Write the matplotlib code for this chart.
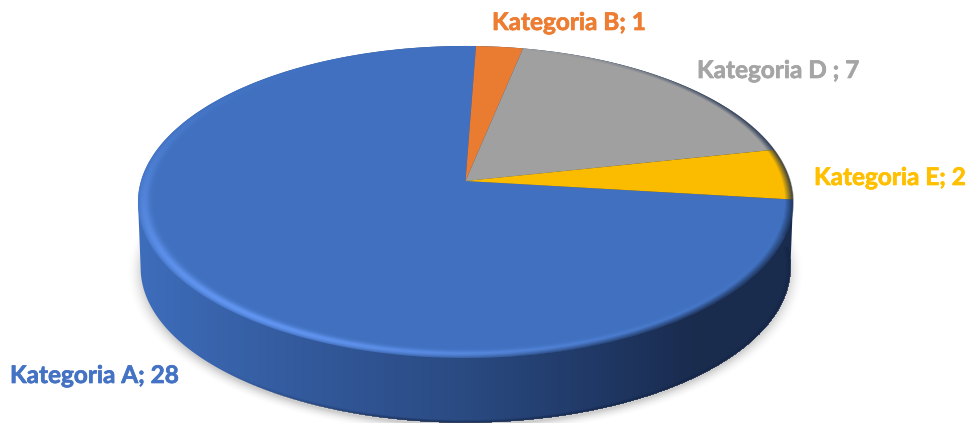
import numpy as np
import matplotlib
matplotlib.use('Agg')
import matplotlib.pyplot as plt
import matplotlib.transforms as mtransforms
import matplotlib.patheffects as pe
from matplotlib.colors import LinearSegmentedColormap
from matplotlib.patches import Polygon

categories = ['Kategoria A', 'Kategoria B', 'Kategoria D ', 'Kategoria E']
values = [28, 1, 7, 2]
colors = ['#4070BF', '#EA7C31', '#A0A0A0', '#FBBC00']
label_colors = ['#4472C4', '#ED7D31', '#A5A5A5', '#FFC000']
label_x = [10, 492, 697, 814]
label_y = [383, 30, 78, 185]

W, H = 971, 423
# perspective of the disc: apex, half width, half height, tilt
CX, CY, A, B, D = 465.5, 181.0, 324.5, 153.2, 0.1346
DEPTH = 66


class Persp(mtransforms.Transform):
    """unit circle -> picture pixels, so the pie keeps its 3d look"""
    input_dims = 2
    output_dims = 2

    def __init__(self, shift=0.0, scale=1.0):
        super().__init__()
        self.shift = shift
        self.scale = scale

    def transform_non_affine(self, values):
        v = np.asarray(values, dtype=float)
        w = 1 + D * v[:, 1]
        return np.column_stack((CX + self.scale * A * v[:, 0] / w,
                                CY + self.shift - self.scale * B * v[:, 1] / w))


def to_unit(px, py, shift=0.0, scale=1.0):
    # inverse of Persp, used for the shading images
    u = (px - CX) / (A * scale)
    v = (CY + shift - py) / (B * scale)
    y = v / (1 - D * v)
    x = u * (1 + D * y)
    return x, y


fig = plt.figure(figsize=(W / 100, H / 100), dpi=100)
ax = fig.add_axes([0, 0, 1, 1])

wedges, _ = ax.pie(values, colors=colors, startangle=353.16, counterclock=False,
                   wedgeprops={'linewidth': 0, 'antialiased': True, 'zorder': 4})
ax.set_aspect('auto')
ax.set_xlim(0, W)
ax.set_ylim(H, 0)
ax.axis('off')

top = Persp()
for w in wedges:
    w.set_transform(top + ax.transData)

px, py = np.meshgrid(np.arange(W) + 0.5, np.arange(H) + 0.5)
extent = (0, W, H, 0)

# soft shadow under the disc
sx, sy = to_unit(px, py, shift=DEPTH + 4, scale=1.0)
sr = np.hypot(sx, sy)
shadow = np.zeros((H, W, 4))
shadow[..., :3] = 0.35
shadow[..., 3] = 0.3 * np.clip(1 - (sr - 0.985) / 0.05, 0, 1) ** 2
ax.imshow(shadow, extent=extent, aspect='auto', zorder=1, interpolation='bilinear')

# side wall, dark to the right
wall_cmap = LinearSegmentedColormap.from_list('wall', [
    (0.0, '#3E6DBB'), (0.25, '#335A9C'), (0.5, '#2A4A82'), (0.72, '#1F3763'), (0.85, '#1A2C4E'), (1.0, '#1A2C4E')])
grad = ((px - 138) / (793 - 138)).clip(0, 1)
wall_im = ax.imshow(grad, extent=extent, aspect='auto', cmap=wall_cmap, vmin=0, vmax=1, zorder=2)
# silhouette joins the two rims where the tilted ellipse is widest
edge = np.degrees(np.arcsin(D))
t = np.radians(np.linspace(180 + edge, 360 - edge, 200))
low = Persp(shift=DEPTH, scale=0.992).transform_non_affine(np.column_stack((np.cos(t), np.sin(t))))
t = np.radians(np.linspace(-edge, 180 + edge, 200))
upp = top.transform_non_affine(np.column_stack((np.cos(t), np.sin(t))))
outline = Polygon(np.vstack((low, upp)), closed=True, transform=ax.transData, fc='none', ec='none')
ax.add_patch(outline)
wall_im.set_clip_path(outline)

# darker lip at the bottom of the wall, only towards the front
bx, by = to_unit(px, py, shift=DEPTH, scale=0.992)
br = np.hypot(bx, by)
lip = np.zeros((H, W, 4))
lip[..., :3] = (0.07, 0.13, 0.26)
lip[..., 3] = (0.7 * np.clip((br - 0.985) / 0.015, 0, 1) * (br <= 1.002) * (by < 0)
               * np.clip((px - 220) / 200, 0, 1))
ax.imshow(lip, extent=extent, aspect='auto', zorder=3, interpolation='bilinear')

# bevel on the rim of the top face
x, y = to_unit(px, py)
r = np.hypot(x, y)
phi = np.degrees(np.arctan2(y, x)) % 360
inside = np.clip((1.004 - r) / 0.006, 0, 1)

bevel = np.exp(-((r - 0.982) / 0.017) ** 2) * np.exp(-((phi - 235) / 60) ** 2)
light = np.zeros((H, W, 4))
light[..., :3] = (0.42, 0.63, 1.0)
light[..., 3] = 0.8 * bevel * inside
ax.imshow(light, extent=extent, aspect='auto', zorder=5, interpolation='bilinear')

side = np.exp(-((((phi + 20) % 360) - 20) / 55) ** 4) + np.exp(-((phi - 320) / 50) ** 2)
side = side.clip(0, 1)
dark = np.zeros((H, W, 4))
dark[..., :3] = (0.10, 0.17, 0.30)
dark[..., 3] = 0.85 * np.clip((r - 0.975) / 0.025, 0, 1) * side * inside
ax.imshow(dark, extent=extent, aspect='auto', zorder=5, interpolation='bilinear')

for name, val, col, tx, ty in zip(categories, values, label_colors, label_x, label_y):
    ax.text(tx, ty, f'{name}; {val}', color=col, family='Lato', weight='bold',
            fontsize=17.5, ha='left', va='baseline', zorder=6,
            path_effects=[pe.withStroke(linewidth=0.5, foreground=col)])

ax.set_xlim(0, W)
ax.set_ylim(H, 0)
fig.savefig('out.png', dpi=100, facecolor='white')
